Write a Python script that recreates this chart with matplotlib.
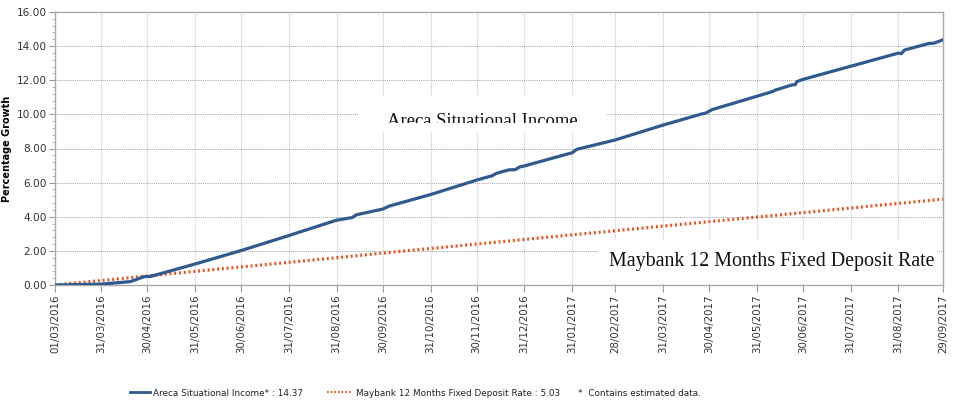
import matplotlib
matplotlib.use("Agg")
import matplotlib.pyplot as plt
import pandas as pd
from matplotlib.patches import Rectangle
from matplotlib.lines import Line2D

# ---- data ----
areca_dates = ["2016-03-01", "2016-03-31", "2016-04-19", "2016-04-28", "2016-05-02",
               "2016-05-31", "2016-06-30", "2016-07-31", "2016-08-31", "2016-09-10",
               "2016-09-13", "2016-09-30", "2016-10-04", "2016-10-31", "2016-11-30",
               "2016-12-10", "2016-12-13", "2016-12-21", "2016-12-25", "2016-12-28",
               "2016-12-31", "2017-01-31", "2017-02-03", "2017-02-28", "2017-03-31",
               "2017-04-25", "2017-04-28", "2017-05-02", "2017-05-31", "2017-06-10",
               "2017-06-12", "2017-06-23", "2017-06-25", "2017-06-26", "2017-06-30",
               "2017-07-31", "2017-08-31", "2017-09-02", "2017-09-04", "2017-09-20",
               "2017-09-23", "2017-09-29"]
areca_values = [0.00, 0.05, 0.20, 0.49, 0.50,
                1.23, 2.02, 2.90, 3.80, 3.95,
                4.12, 4.45, 4.62, 5.30, 6.15,
                6.40, 6.55, 6.75, 6.76, 6.92,
                6.98, 7.75, 7.95, 8.50, 9.37,
                10.02, 10.08, 10.28, 11.06, 11.33,
                11.42, 11.73, 11.74, 11.92, 12.05,
                12.82, 13.59, 13.56, 13.77, 14.16,
                14.17, 14.37]

tick_dates = ["2016-03-01", "2016-03-31", "2016-04-30", "2016-05-31", "2016-06-30",
              "2016-07-31", "2016-08-31", "2016-09-30", "2016-10-31", "2016-11-30",
              "2016-12-31", "2017-01-31", "2017-02-28", "2017-03-31", "2017-04-30",
              "2017-05-31", "2017-06-30", "2017-07-31", "2017-08-31", "2017-09-29"]
maybank_values = [0.00, 0.26, 0.53, 0.80, 1.06, 1.33, 1.60, 1.87, 2.14, 2.40,
                  2.67, 2.94, 3.18, 3.45, 3.71, 3.98, 4.24, 4.51, 4.78, 5.03]
tick_labels = [pd.Timestamp(d).strftime("%d/%m/%Y") for d in tick_dates]

areca_label = "Areca Situational Income"
maybank_label = "Maybank 12 Months Fixed Deposit Rate"
areca_final = 14.37
maybank_final = 5.03

BLUE = "#2f5a8e"
RED = "#e8501c"

# ---- figure ----
fig = plt.figure(figsize=(9.55, 4.01), dpi=100)
ax = fig.add_axes([55/955, 1-285/401, 888/955, 273/401])

ad = pd.to_datetime(areca_dates)
td = pd.to_datetime(tick_dates)

ax.plot(td, maybank_values, color=RED, lw=2.3, linestyle=(0, (0.6, 0.9)), zorder=3,
        dash_capstyle="butt")
ax.plot(ad, areca_values, color=BLUE, lw=2.3, zorder=4, solid_joinstyle="round")

ax.set_xlim(td[0], td[-1])
ax.set_ylim(0, 16)
yt = [0, 2, 4, 6, 8, 10, 12, 14, 16]
ax.set_yticks(yt)
ax.set_yticklabels([f"{v:.2f}" for v in yt])
ax.yaxis.set_minor_locator(matplotlib.ticker.MultipleLocator(0.4))
ax.set_xticks(td)
ax.set_xticklabels(tick_labels, rotation=90)

ax.tick_params(axis="y", which="major", length=4, color="#999999", labelsize=7.6,
               labelcolor="#333333", pad=2)
ax.tick_params(axis="y", which="minor", length=2, color="#aaaaaa")
ax.tick_params(axis="x", which="major", length=5, color="#999999", labelsize=7.4,
               labelcolor="#333333", pad=2)
for s in ax.spines.values():
    s.set_color("#aaaaaa")
    s.set_linewidth(1.0)

ax.grid(axis="y", color="#9a9aaa", linestyle=(0, (1.0, 1.2)), lw=0.7, zorder=0)
ax.grid(axis="x", color="#d0d0d8", linestyle=(0, (1.2, 0.8)), lw=0.9, zorder=0)
ax.set_axisbelow(True)

ax.set_ylabel("Percentage Growth", fontsize=7, fontweight="bold", labelpad=3)

# annotation boxes
ax.add_patch(Rectangle((0.341, 0.560), 0.281, 0.129, transform=ax.transAxes,
                       facecolor="white", edgecolor="none", zorder=2))
clip = Rectangle((0.341, 0.593), 0.281, 0.096, transform=ax.transAxes,
                 facecolor="none", edgecolor="none")
ax.add_patch(clip)
t1 = ax.text(0.374, 0.584, areca_label, transform=ax.transAxes, fontsize=13.4,
             family="Liberation Serif", color="#111111", zorder=5, clip_on=True)
t1.set_clip_path(clip)

ax.add_patch(Rectangle((0.611, 0.003), 0.382, 0.162, transform=ax.transAxes,
                       facecolor="white", edgecolor="none", zorder=2))
ax.text(0.624, 0.068, maybank_label, transform=ax.transAxes, fontsize=14.4,
        family="Liberation Serif", color="#111111", zorder=5)

# legend at bottom
ly = 1 - 393/401
fig.add_artist(Line2D([130/955, 150/955], [ly+0.003, ly+0.003], color=BLUE, lw=2,
                      transform=fig.transFigure))
fig.text(153/955, ly, f"{areca_label}* : {areca_final:.2f}", fontsize=6.4,
         color="#222222", va="center")
fig.add_artist(Line2D([327/955, 351/955], [ly+0.003, ly+0.003], color=RED, lw=1.3,
                      linestyle=(0, (1, 1)), transform=fig.transFigure))
fig.text(356/955, ly, f"{maybank_label} : {maybank_final:.2f}", fontsize=6.4,
         color="#222222", va="center")
fig.text(578/955, ly, "*  Contains estimated data.", fontsize=6.4,
         color="#222222", va="center")

fig.savefig("out.png", dpi=100)
